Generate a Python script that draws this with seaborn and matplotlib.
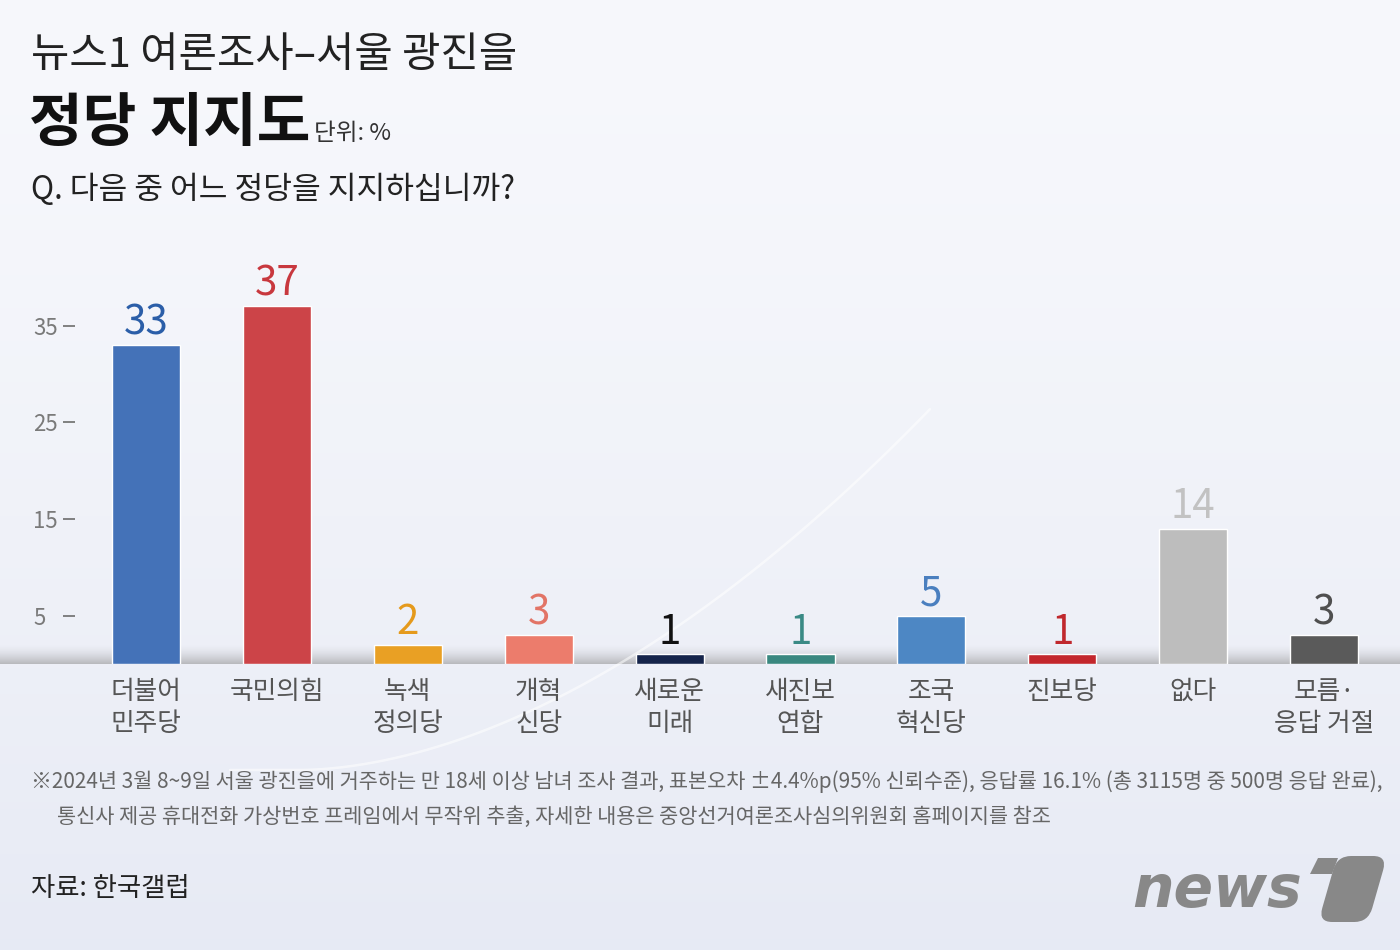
import numpy as np
import pandas as pd
import matplotlib.pyplot as plt
import seaborn as sns
from matplotlib.patches import FancyBboxPatch, Polygon
from matplotlib.transforms import Affine2D

# data
parties = ['더불어\n민주당', '국민의힘', '녹색\n정의당', '개혁\n신당', '새로운\n미래',
           '새진보\n연합', '조국\n혁신당', '진보당', '없다', '모름·\n응답 거절']
support = [33, 37, 2, 3, 1, 1, 5, 1, 14, 3]
bar_colors = ['#4472b8', '#cc4448', '#e9a024', '#ec7c6c', '#15244a',
              '#3a8880', '#4d87c4', '#c3262c', '#bdbdbd', '#5a5a5a']
label_colors = ['#2b5ea8', '#c8383e', '#e59a1c', '#e27466', '#111111',
                '#3a8a85', '#4a7fbf', '#c0282d', '#c2c2c2', '#4f4f4f']
y_ticks = [5, 15, 25, 35]

title = '뉴스1 여론조사–서울 광진을'
subtitle = '정당 지지도'
unit = '단위: %'
question = 'Q. 다음 중 어느 정당을 지지하십니까?'
note_1 = ('※2024년 3월 8~9일 서울 광진을에 거주하는 만 18세 이상 남녀 조사 결과, 표본오차 ±4.4%p(95% 신뢰수준), '
          '응답률 16.1% (총 3115명 중 500명 응답 완료),')
note_2 = '통신사 제공 휴대전화 가상번호 프레임에서 무작위 추출, 자세한 내용은 중앙선거여론조사심의위원회 홈페이지를 참조'
source = '자료: 한국갤럽'

sns.set_style('white')
plt.rcParams['font.family'] = ['Noto Sans CJK KR', 'DejaVu Sans']

W, H = 1400, 950
fig = plt.figure(figsize=(W / 100, H / 100), dpi=100)


def fx(x):
    return x / W


def fy(y):
    return 1 - y / H


# background layer in pixel coordinates
bg = fig.add_axes([0, 0, 1, 1], zorder=0)
bg.set_xlim(0, W)
bg.set_ylim(H, 0)
bg.axis('off')
grad = np.linspace(0, 1, 256)[:, None]
top_c = np.array([0.968, 0.972, 0.988])
bot_c = np.array([0.905, 0.918, 0.958])
img = top_c + (bot_c - top_c) * grad[..., None] ** 1.4
bg.imshow(img.repeat(2, axis=1), extent=[0, W, H, 0], aspect='auto')

# faint decorative arc
xs = np.linspace(230, 930, 200)
ys = 770 - 0.0033 * (xs - 300).clip(0) ** 1.8
bg.plot(xs, ys, color='white', lw=1.8, alpha=0.55)

# baseline shadow band
band = np.linspace(0, 1, 64)[:, None] ** 1.6
band_rgba = np.zeros((64, 2, 4))
band_rgba[..., :3] = 0.55
band_rgba[..., 3] = band * 0.55
bg.imshow(band_rgba, extent=[0, W, 664, 644], aspect='auto')

# logo
bg.text(1302, 890, 'news', fontsize=42, fontweight='bold', style='oblique',
        family='DejaVu Sans', color='#888888', ha='right', va='center')
skew = Affine2D().translate(-1352, -888).skew_deg(-16, 0).translate(1352, 888) + bg.transData
stem = FancyBboxPatch((1328, 856), 50, 66, boxstyle='round,pad=0,rounding_size=14',
                      fc='#888888', ec='none', transform=skew)
bg.add_patch(stem)
flag = Polygon([[1310, 874], [1318, 858], [1338, 858], [1332, 874]],
               closed=True, fc='#888888', ec='none')
bg.add_patch(flag)

# main chart
ax_left, ax_bottom = 75, 664
ax = fig.add_axes([fx(ax_left), fy(ax_bottom), 1 - fx(ax_left), (ax_bottom - 250) / H], zorder=1)
ax.patch.set_alpha(0)
df = pd.DataFrame({'party': parties, 'support': support})
sns.barplot(data=df, x='party', y='support', hue='party', palette=bar_colors,
            legend=False, width=0.52, saturation=1, ax=ax, zorder=2)

step = 130.9
ax.set_xlim(-(146 - ax_left) / step, -(146 - ax_left) / step + (W - ax_left) / step)
ax.set_ylim(0, (ax_bottom - 250) / 9.667)
ax.set_xlabel('')
ax.set_ylabel('')
sns.despine(ax=ax, left=True, bottom=True)

ax.set_yticks(y_ticks)
ax.tick_params(axis='y', length=8.6, width=1.3, color='#777777', pad=21.6,
               labelsize=16, labelcolor='#7a7a7a', left=True)
for t in ax.get_yticklabels():
    t.set_horizontalalignment('left')
    t.set_fontweight('light')

ax.tick_params(axis='x', length=0, pad=11, labelsize=18.5, labelcolor='#555555')
for t in ax.get_xticklabels():
    t.set_linespacing(1.3)
    t.set_fontweight('light')

for cont in ax.containers:
    ax.bar_label(cont, fmt='%d', padding=1, fontsize=29)
for t, c in zip(ax.texts, label_colors):
    t.set_color(c)

# header text
fig.text(fx(31), fy(56), title, fontsize=30, fontweight='light', color='#222222', va='center')
fig.text(fx(29), fy(124), subtitle, fontsize=42, fontweight='bold', color='#111111', va='center')
fig.text(fx(314), fy(133), unit, fontsize=17, color='#333333', va='center')
fig.text(fx(31), fy(190), question, fontsize=22.5, fontweight='light', color='#222222', va='center')

# footnote and source
fig.text(fx(31), fy(782), note_1, fontsize=15, color='#666666', va='center')
fig.text(fx(57), fy(817), note_2, fontsize=15, color='#666666', va='center')
fig.text(fx(31), fy(888), source, fontsize=19, color='#222222', va='center')

fig.savefig('out.png', dpi=100)
